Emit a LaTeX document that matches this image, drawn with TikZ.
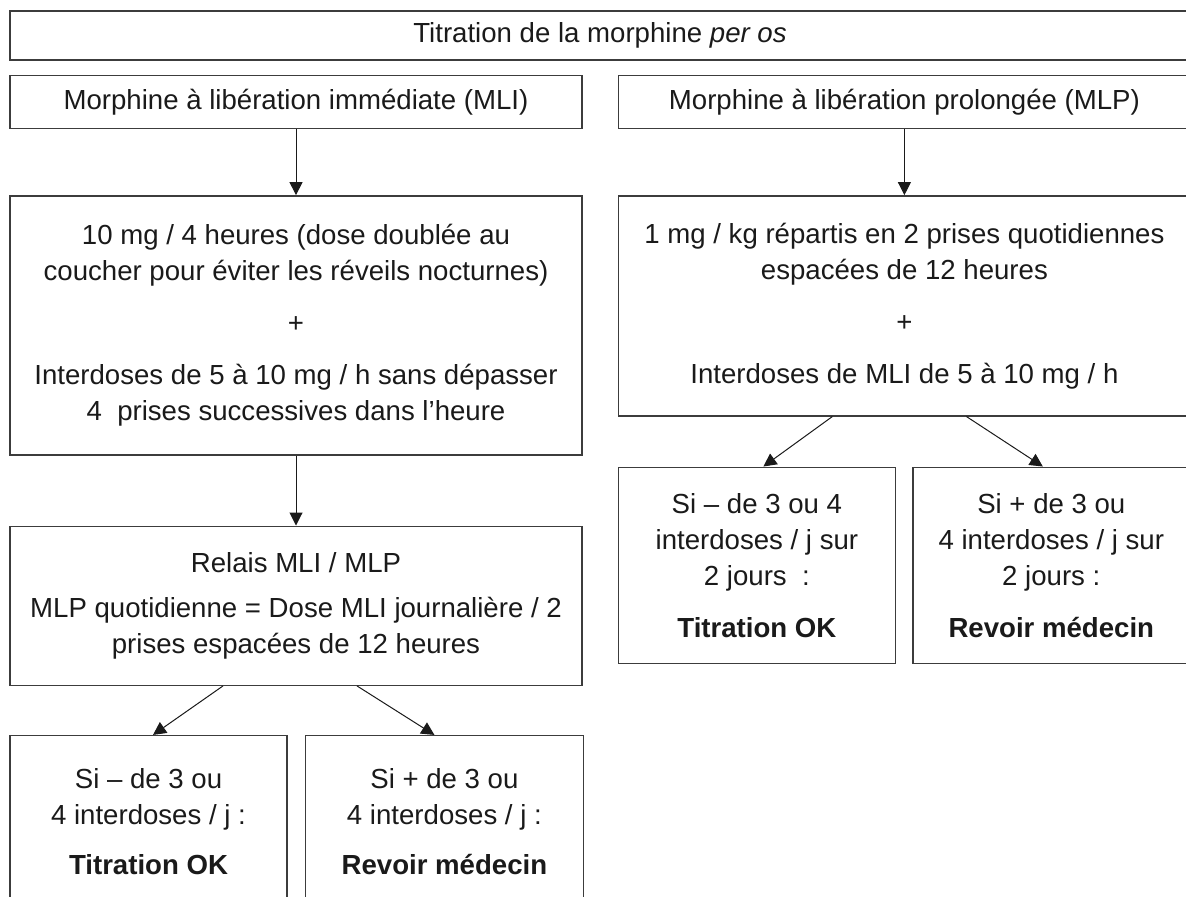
\documentclass[tikz,border=0pt]{standalone}
\usepackage{fontspec}
\setmainfont{Liberation Sans}
\usepackage{tikz}
\usetikzlibrary{arrows.meta,positioning}
\definecolor{ink}{HTML}{1A1A1A}
\definecolor{frame}{HTML}{3C3C3C}
\tikzset{
  box/.style={rectangle, draw=frame, fill=white, line width=0.7pt, align=center,
              inner sep=0pt, text=ink, font=\fontsize{13.8}{18}\selectfont},
  headbox/.style={box, minimum width=286pt, minimum height=26.5pt},
  bigbox/.style={box, minimum width=286pt},
  endbox/.style={box, minimum width=138.5pt},
  flow/.style={-{Triangle[length=6.5pt,width=6.5pt]}, draw=ink, line width=0.5pt}
}
\begin{document}
\begin{tikzpicture}
 \useasboundingbox (0,0) rectangle (593pt,-448pt);
 \node[box, minimum width=590pt, minimum height=24.5pt] (title) at (300pt,-17.75pt) {Titration de la morphine \textit{per os}};
 \node[headbox, below=7pt of title.south west, anchor=north west] (mli) {Morphine à libération immédiate (MLI)};
 \node[headbox, right=17.5pt of mli] (mlp) {Morphine à libération prolongée (MLP)};

 \node[bigbox, minimum height=129.5pt, below=33pt of mli] (imm) {10 mg / 4 heures (dose doublée au\\coucher pour éviter les réveils nocturnes)\\[8pt]+\\[8pt]Interdoses de 5 à 10 mg / h sans dépasser\\4\ \ prises successives dans l’heure};
 \node[bigbox, minimum height=110pt, below=33pt of mlp] (pro) {1 mg / kg répartis en 2 prises quotidiennes\\espacées de 12 heures\\[8pt]+\\[8pt]Interdoses de MLI de 5 à 10 mg / h};
 \node[bigbox, minimum height=79.5pt, below=35pt of imm] (relais) {Relais MLI / MLP\\[4.5pt]MLP quotidienne = Dose MLI journalière / 2\\prises espacées de 12 heures};

 \node[endbox, minimum height=86.5pt, below=24.5pt of relais.south west, anchor=north west] (okA) {Si -- de 3 ou\\4 interdoses / j :\\[7pt]\textbf{Titration OK}};
 \node[endbox, minimum width=139pt, minimum height=86.5pt, right=8.5pt of okA] (revA) {Si + de 3 ou\\4 interdoses / j :\\[7pt]\textbf{Revoir médecin}};
 \node[endbox, minimum height=98pt, below=25pt of pro.south west, anchor=north west] (okB) {Si -- de 3 ou 4\\interdoses / j sur\\2 jours\ \ :\\[8pt]\textbf{Titration OK}};
 \node[endbox, minimum height=98pt, right=8pt of okB] (revB) {Si + de 3 ou\\4 interdoses / j sur\\2 jours :\\[8pt]\textbf{Revoir médecin}};

 \draw[flow] (mli) -- (imm);
 \draw[flow] (mlp) -- (pro);
 \draw[flow] (imm) -- (relais);
 \draw[flow] ([xshift=-36.5pt]relais.south) -- ([xshift=2.25pt]okA.north);
 \draw[flow] ([xshift=30.5pt]relais.south) -- ([xshift=-5pt]revA.north);
 \draw[flow] ([xshift=-36pt]pro.south) -- ([xshift=3.25pt]okB.north);
 \draw[flow] ([xshift=31pt]pro.south) -- ([xshift=-4.25pt]revB.north);
\end{tikzpicture}
\end{document}
